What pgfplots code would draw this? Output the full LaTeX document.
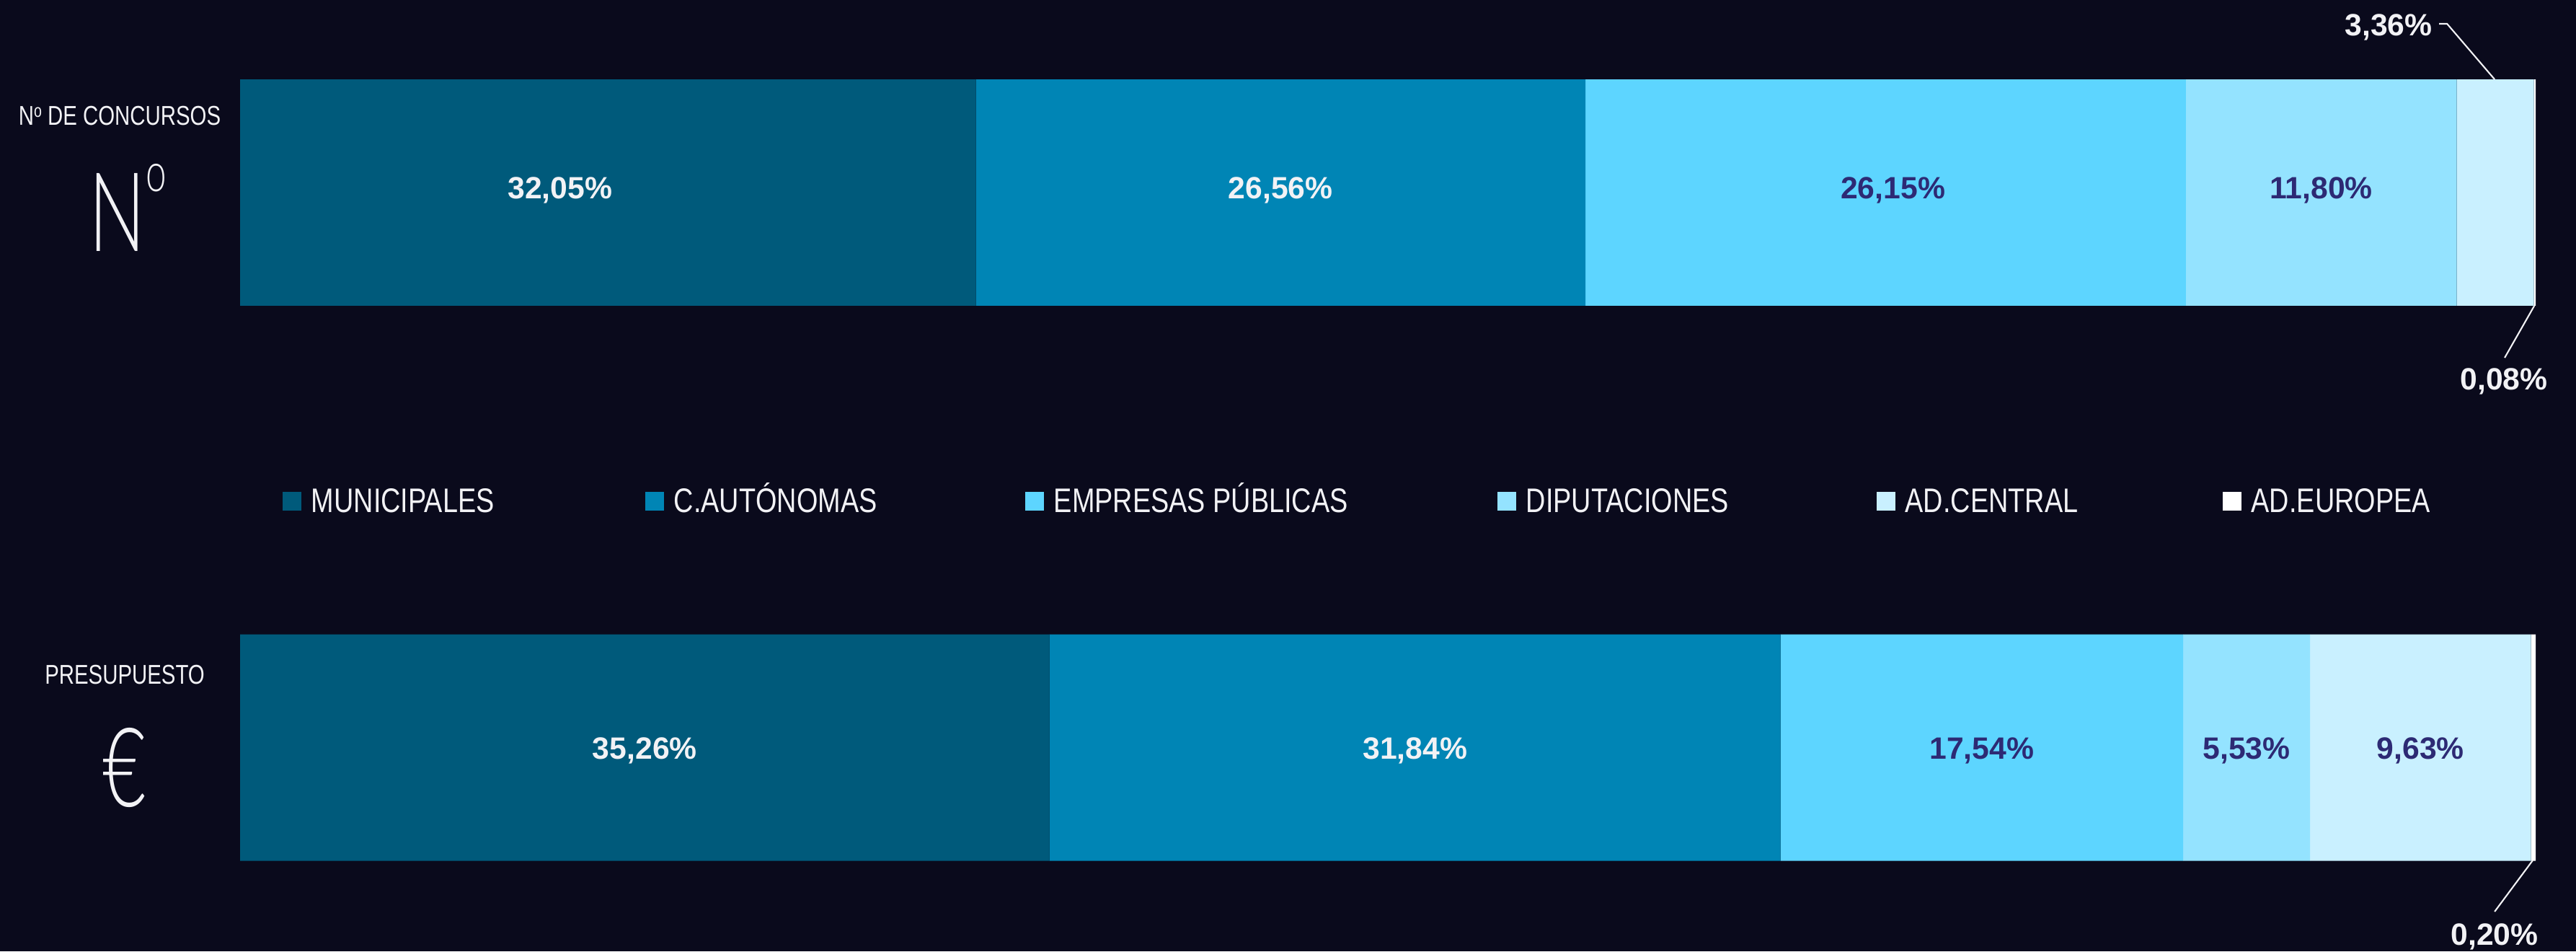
\documentclass[border=0pt]{standalone}
\usepackage{fontspec}
\setmainfont{Liberation Sans}
\newfontfamily\condfont{Liberation Sans}[FakeStretch=0.8]
\newfontfamily\smallcond{Liberation Sans}[FakeStretch=0.78]
\newfontfamily\thinfont{Lato Light}[FakeStretch=0.68]
\usepackage{pgfplots}
\pgfplotsset{compat=1.18}
\definecolor{bg}{HTML}{0A0A1C}
\definecolor{cA}{HTML}{005A7B}
\definecolor{cB}{HTML}{0085B5}
\definecolor{cC}{HTML}{5DD5FF}
\definecolor{cD}{HTML}{94E3FF}
\definecolor{cE}{HTML}{C9F0FF}
\definecolor{cF}{HTML}{FFFFFF}
\definecolor{navy}{HTML}{2D2A74}
\definecolor{txt}{HTML}{F2F2F5}
\pgfplotsset{legsq/.style={legend image code/.code={\fill[#1] (0cm,0.023cm) rectangle (0.218cm,0.241cm);}}}
\tikzset{lab/.style={anchor=base, font=\bfseries\fontsize{10.2}{12}\selectfont, text=#1}}
\begin{document}
\begin{tikzpicture}
\fill[bg] (0,0) rectangle (30cm,11.075cm);
\begin{axis}[
  at={(2.796cm,0.7566cm)}, anchor=south west,
  scale only axis, width=26.734cm, height=9.692cm,
  xbar stacked, bar width=2.636cm,
  xmin=0, xmax=100, ymin=-0.25, ymax=1.25,
  enlargelimits=false, hide axis, clip=false,
  legend columns=6,
  legend style={at={(0.01822,0.4637)}, anchor=west, draw=none, fill=none,
    inner sep=0pt, text=txt, font=\condfont\fontsize{11.3}{13}\selectfont,
    nodes={inner sep=0pt, text height=0.285cm, text depth=0pt},
    cells={anchor=base west}},
]
\addplot[fill=cA, draw=none, legsq=cA] coordinates {(32.05,1) (35.26,0)};
\addlegendentry{\hspace*{0.118cm}\makebox[3.887cm][l]{MUNICIPALES}}
\addplot[fill=cB, draw=none, legsq=cB] coordinates {(26.56,1) (31.84,0)};
\addlegendentry{\hspace*{0.118cm}\makebox[4.089cm][l]{C.AUTÓNOMAS}}
\addplot[fill=cC, draw=none, legsq=cC] coordinates {(26.15,1) (17.54,0)};
\addlegendentry{\hspace*{0.118cm}\makebox[5.163cm][l]{EMPRESAS PÚBLICAS}}
\addplot[fill=cD, draw=none, legsq=cD] coordinates {(11.80,1) (5.53,0)};
\addlegendentry{\hspace*{0.118cm}\makebox[4.080cm][l]{DIPUTACIONES}}
\addplot[fill=cE, draw=none, legsq=cE] coordinates {(3.36,1) (9.63,0)};
\addlegendentry{\hspace*{0.118cm}\makebox[3.694cm][l]{AD.CENTRAL}}
\addplot[fill=cF, draw=none, legsq=cF] coordinates {(0.08,1) (0.20,0)};
\addlegendentry{\hspace*{0.118cm}\makebox[2.1cm][l]{AD.EUROPEA}}
\end{axis}
% value labels (axis mapping: x = 2.796 + 0.26734*v, y = 2.3719 + 6.461*row)
\node[lab=txt]  at (6.523,8.766) {32,05\%};
\node[lab=txt]  at (14.914,8.766) {26,56\%};
\node[lab=navy] at (22.045,8.766) {26,15\%};
\node[lab=navy] at (27.033,8.766) {11,80\%};
\node[lab=txt]  at (7.509,2.234) {35,26\%};
\node[lab=txt]  at (16.479,2.234) {31,84\%};
\node[lab=navy] at (23.079,2.234) {17,54\%};
\node[lab=navy] at (26.163,2.234) {5,53\%};
\node[lab=navy] at (28.189,2.234) {9,63\%};
\node[lab=txt]  at (27.816,10.663) {3,36\%};
\node[lab=txt]  at (29.161,6.541) {0,08\%};
\node[lab=txt]  at (29.052,0.0757) {0,20\%};
\draw[txt, line width=0.5pt] (28.405,10.798) -- (28.498,10.798) -- (29.052,10.151);
\draw[txt, line width=0.5pt] (29.514,7.515) -- (29.169,6.910);
\draw[txt, line width=0.5pt] (29.495,1.058) -- (29.052,0.462);
\node[anchor=base, text=txt, font=\smallcond\fontsize{9}{10}\selectfont] at (1.394,9.619) {N\raisebox{0.095cm}{\fontsize{6}{7}\selectfont o} DE CONCURSOS};
\node[anchor=base, text=txt, font=\thinfont\fontsize{36.5}{40}\selectfont] at (1.490,8.150) {N\raisebox{0.70cm}{\fontsize{18}{20}\selectfont o}};
\node[anchor=base, text=txt, font=\smallcond\fontsize{9}{10}\selectfont] at (1.453,3.112) {PRESUPUESTO};
\node[anchor=base, text=txt, font=\thinfont\fontsize{36.5}{40}\selectfont] at (1.45,1.688) {€};
\pgfresetboundingbox
\path (0,0) rectangle (30cm,11.075cm);
\end{tikzpicture}
\end{document}
